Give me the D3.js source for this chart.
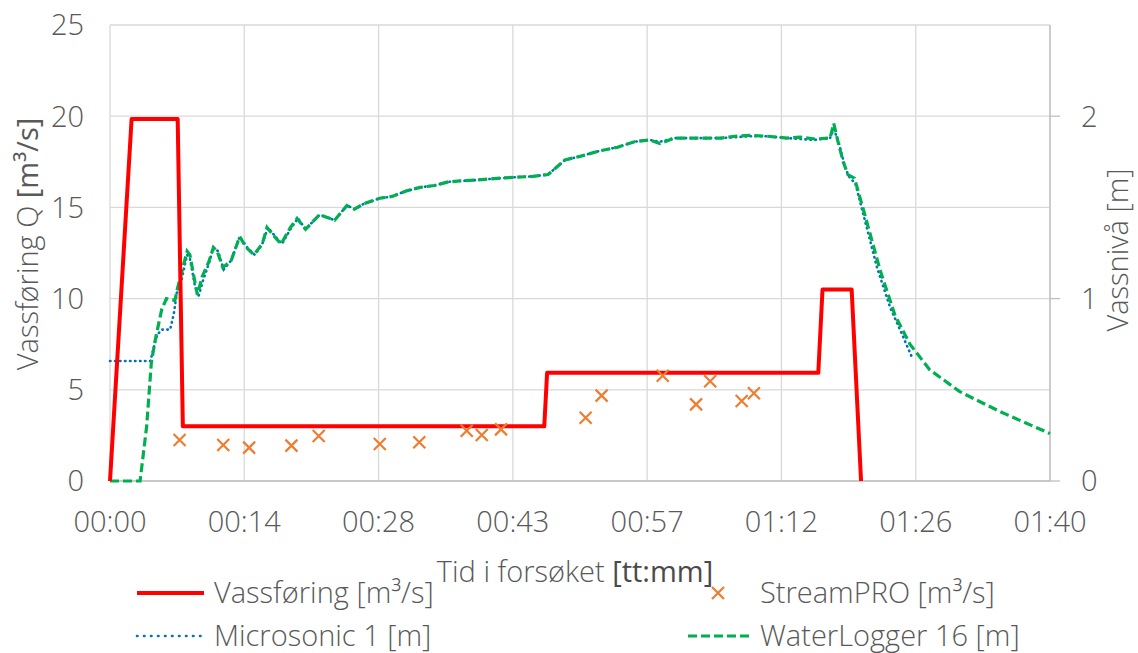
<!DOCTYPE html>
<html>
<head>
<meta charset="utf-8">
<script src="https://cdn.jsdelivr.net/npm/d3@7"></script>
<style>
  body { margin: 0; background: #fff; }
  text { font-family: "Open Sans", "Liberation Sans", sans-serif; font-weight: 300; fill: #595959; }
</style>
</head>
<body>
<div id="chart"></div>
<script>
// Vassføring (red step line), minutes / m3/s
const flowTime = [0, 2.3, 7.2, 7.75, 46.2, 46.5, 75.35, 75.8, 78.9, 79.9];
const flowQ    = [0, 19.85, 19.85, 3.0, 3.0, 5.93, 5.93, 10.5, 10.5, 0];

// StreamPRO measurements
const spTime = [7.4, 12.05, 14.8, 19.3, 22.2, 28.7, 32.9, 37.95, 39.55, 41.6, 50.6, 52.3, 58.8, 62.35, 63.85, 67.2, 68.5];
const spQ    = [2.25, 1.97, 1.83, 1.94, 2.47, 2.03, 2.12, 2.76, 2.52, 2.83, 3.47, 4.68, 5.77, 4.2, 5.47, 4.39, 4.81];

// Microsonic 1 (m)
const msTime  = [0, 4.3, 4.6, 5.0, 5.5, 6.4, 6.8, 7.1, 7.6, 8.2, 8.5, 9.0, 9.4, 9.9, 10.5, 11.0, 11.5, 12.1, 12.9, 13.8, 14.6, 15.4, 16.2, 16.8, 17.6, 18.3, 19.3, 20.0, 20.8, 22.3, 23.9, 25.2, 26.1, 27.0, 28.7, 30.0, 31.5, 33.0, 34.5, 36.0, 37.2, 39.0, 41.5, 43.0, 45.0, 46.6, 47.5, 48.4, 50.0, 52.1, 54.0, 55.8, 57.4, 58.5, 60.0, 62.8, 65.0, 66.5, 68.1, 70.0, 72.0, 73.4, 75.0, 76.6, 77.0, 77.5, 78.2, 78.6, 79.3, 80.2, 81.6, 83.0, 84.3, 85.3];
const msLevel = [0.658, 0.658, 0.72, 0.80, 0.83, 0.83, 0.92, 1.03, 1.10, 1.24, 1.22, 1.08, 1.01, 1.10, 1.19, 1.28, 1.26, 1.16, 1.21, 1.34, 1.28, 1.24, 1.30, 1.39, 1.34, 1.30, 1.39, 1.44, 1.38, 1.46, 1.43, 1.51, 1.49, 1.52, 1.55, 1.56, 1.59, 1.61, 1.62, 1.64, 1.645, 1.65, 1.66, 1.665, 1.67, 1.68, 1.72, 1.76, 1.78, 1.81, 1.83, 1.86, 1.87, 1.86, 1.88, 1.88, 1.88, 1.885, 1.89, 1.89, 1.88, 1.875, 1.87, 1.88, 1.93, 1.86, 1.72, 1.67, 1.63, 1.45, 1.17, 0.95, 0.80, 0.68];

// WaterLogger 16 (m)
const wlTime  = [0, 3.2, 3.9, 4.4, 4.8, 5.5, 6.0, 6.9, 7.2, 7.6, 8.2, 8.5, 9.0, 9.3, 9.8, 10.5, 11.0, 11.4, 12.0, 12.9, 13.8, 14.5, 15.3, 16.2, 16.7, 17.5, 18.2, 19.2, 19.9, 20.8, 22.3, 23.9, 25.2, 26.0, 27.0, 28.7, 30.0, 31.5, 33.0, 34.5, 36.0, 37.2, 39.0, 41.5, 43.0, 45.0, 46.6, 47.5, 48.4, 50.0, 52.1, 54.0, 55.8, 57.4, 58.5, 60.0, 62.8, 65.0, 66.5, 68.1, 70.0, 72.0, 73.4, 75.0, 76.6, 77.0, 77.4, 78.0, 78.5, 79.2, 80.3, 81.9, 83.5, 85.1, 87.2, 90.4, 94.7, 100];
const wlLevel = [0, 0, 0.30, 0.65, 0.77, 0.94, 1.0, 0.99, 1.06, 1.14, 1.26, 1.24, 1.10, 1.02, 1.12, 1.20, 1.28, 1.26, 1.17, 1.21, 1.34, 1.28, 1.24, 1.30, 1.39, 1.34, 1.30, 1.39, 1.44, 1.38, 1.46, 1.43, 1.51, 1.49, 1.52, 1.55, 1.56, 1.59, 1.61, 1.62, 1.64, 1.645, 1.65, 1.66, 1.665, 1.67, 1.68, 1.72, 1.76, 1.78, 1.81, 1.83, 1.86, 1.87, 1.85, 1.88, 1.88, 1.88, 1.89, 1.895, 1.89, 1.88, 1.885, 1.875, 1.88, 1.96, 1.87, 1.75, 1.68, 1.66, 1.46, 1.16, 0.91, 0.75, 0.61, 0.49, 0.38, 0.26];

const xTickLabels = ["00:00", "00:14", "00:28", "00:43", "00:57", "01:12", "01:26", "01:40"];
const leftTicks = [0, 5, 10, 15, 20, 25];
const rightTicks = [0, 1, 2];

const width = 1138, height = 653;
const margin = {left: 110, right: 88, top: 25, bottom: 172};

const svg = d3.select("#chart").append("svg")
    .attr("width", width)
    .attr("height", height);

const x = d3.scaleLinear().domain([0, 100]).range([margin.left, width - margin.right]);
const yL = d3.scaleLinear().domain([0, 25]).range([height - margin.bottom, margin.top]);
const yR = d3.scaleLinear().domain([0, 2.5]).range([height - margin.bottom, margin.top]);

const xTicks = d3.range(8).map(i => i * 100 / 7);

// grid
const grid = svg.append("g").attr("stroke", "#d9d9d9").attr("stroke-width", 1.3);
grid.selectAll(".h").data(leftTicks).join("line")
    .attr("x1", x(0)).attr("x2", x(100))
    .attr("y1", d => yL(d)).attr("y2", d => yL(d));
grid.selectAll(".v").data(xTicks).join("line")
    .attr("x1", d => x(d)).attr("x2", d => x(d))
    .attr("y1", yL(0)).attr("y2", yL(25));

// right axis line + ticks
const ra = svg.append("g").attr("stroke", "#bfbfbf").attr("stroke-width", 1.3);
ra.append("line").attr("x1", x(100)).attr("x2", x(100)).attr("y1", yR(0)).attr("y2", yR(2.5));
ra.selectAll(".t").data(rightTicks).join("line")
    .attr("x1", x(100)).attr("x2", x(100) + 10)
    .attr("y1", d => yR(d)).attr("y2", d => yR(d));
svg.append("line").attr("stroke", "#bfbfbf").attr("stroke-width", 1.3)
    .attr("x1", x(0)).attr("x2", x(100)).attr("y1", yL(0)).attr("y2", yL(0));

// tick labels
const fs = 29;
svg.append("g").selectAll("text").data(leftTicks).join("text")
    .attr("x", 84).attr("y", d => yL(d)).attr("dy", "0.36em")
    .attr("text-anchor", "end").style("font-size", fs + "px").text(d => d);
svg.append("g").selectAll("text").data(rightTicks).join("text")
    .attr("x", 1081).attr("y", d => yR(d)).attr("dy", "0.36em")
    .attr("text-anchor", "start").style("font-size", fs + "px").text(d => d);
svg.append("g").selectAll("text").data(xTicks).join("text")
    .attr("x", d => x(d)).attr("y", 522).attr("dy", "0.36em")
    .attr("text-anchor", "middle").style("font-size", fs + "px").text((d, i) => xTickLabels[i]);

// axis titles
const lt = svg.append("text").attr("transform", "translate(28,244) rotate(-90)")
    .attr("dy", "0.36em").attr("text-anchor", "middle").style("font-size", fs + "px");
lt.append("tspan").text("Vassføring Q ");
lt.append("tspan").style("font-weight", 400).text("[m³/s]");

svg.append("text").attr("transform", "translate(1118,250) rotate(-90)")
    .attr("dy", "0.36em").attr("text-anchor", "middle").style("font-size", fs + "px").text("Vassnivå [m]");

const xt = svg.append("text").attr("x", 575).attr("y", 572).attr("dy", "0.36em")
    .attr("text-anchor", "middle").style("font-size", fs + "px");
xt.append("tspan").text("Tid i forsøket ");
xt.append("tspan").style("font-weight", 400).style("fill", "#4a4a4a").text("[tt:mm]");

// series
const zip = (a, b) => a.map((t, i) => [t, b[i]]);

svg.append("path").datum(zip(msTime, msLevel))
    .attr("fill", "none").attr("stroke", "#0070c0").attr("stroke-width", 2.6)
    .attr("stroke-dasharray", "0.5,4.5").attr("stroke-linecap", "round")
    .attr("d", d3.line().x(d => x(d[0])).y(d => yR(d[1])));

svg.append("path").datum(zip(wlTime, wlLevel))
    .attr("fill", "none").attr("stroke", "#00b050").attr("stroke-width", 3.2)
    .attr("stroke-dasharray", "9,4")
    .attr("d", d3.line().x(d => x(d[0])).y(d => yR(d[1])));

svg.append("path").datum(zip(flowTime, flowQ))
    .attr("fill", "none").attr("stroke", "#ff0000").attr("stroke-width", 4)
    .attr("stroke-linejoin", "round")
    .attr("d", d3.line().x(d => x(d[0])).y(d => yL(d[1])));

const cross = (g, cx, cy) => {
  const s = 6;
  g.append("path").attr("d", `M${cx - s},${cy - s}L${cx + s},${cy + s}M${cx - s},${cy + s}L${cx + s},${cy - s}`)
    .attr("stroke", "#ed7d31").attr("stroke-width", 2.2).attr("fill", "none");
};
const sp = svg.append("g");
zip(spTime, spQ).forEach(d => cross(sp, x(d[0]), yL(d[1])));

// legend
const lg = svg.append("g");
const row1 = 593, row2 = 636;
lg.append("line").attr("x1", 137).attr("x2", 204).attr("y1", row1).attr("y2", row1)
    .attr("stroke", "#ff0000").attr("stroke-width", 4);
lg.append("text").attr("x", 214).attr("y", row1).attr("dy", "0.36em").style("font-size", fs + "px").text("Vassføring [m³/s]");
cross(lg, 718, row1);
lg.append("text").attr("x", 760).attr("y", row1).attr("dy", "0.36em").style("font-size", fs + "px").text("StreamPRO [m³/s]");
lg.append("line").attr("x1", 137).attr("x2", 204).attr("y1", row2).attr("y2", row2)
    .attr("stroke", "#0070c0").attr("stroke-width", 2.6).attr("stroke-dasharray", "0.5,6.5").attr("stroke-linecap", "round");
lg.append("text").attr("x", 214).attr("y", row2).attr("dy", "0.36em").style("font-size", fs + "px").text("Microsonic 1 [m]");
lg.append("line").attr("x1", 688).attr("x2", 752).attr("y1", row2).attr("y2", row2)
    .attr("stroke", "#00b050").attr("stroke-width", 3.2).attr("stroke-dasharray", "9,4");
lg.append("text").attr("x", 760).attr("y", row2).attr("dy", "0.36em").style("font-size", fs + "px").text("WaterLogger 16 [m]");
</script>
</body>
</html>
